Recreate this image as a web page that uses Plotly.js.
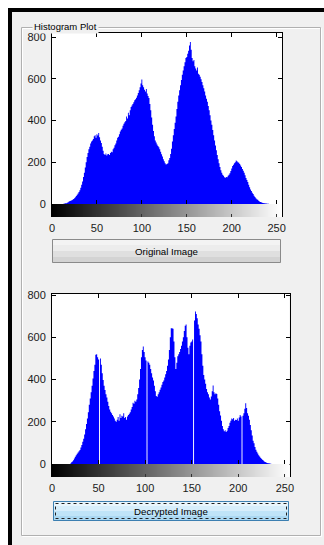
<!DOCTYPE html>
<html>
<head>
<meta charset="utf-8">
<script src="https://cdn.plot.ly/plotly-3.0.1.min.js"></script>
<style>html,body{margin:0;padding:0;background:#fff;}#chart{width:324px;height:545px;}</style>
</head>
<body>
<div id="chart"></div>
<script>
// Histogram counts per gray level (0..255)
const originalCounts = [
0,0,0,0,0,0,0,0,0,0,0,0,0,
1,2,3,4,6,8,12,
14,16,18,20,24,28,32,38,44,50,
58,66,78,92,108,130,150,175,200,225,
245,262,275,290,300,305,312,325,330,318,
335,328,340,320,305,292,275,255,240,235,
242,232,238,240,235,245,250,248,262,270,
282,290,305,318,322,335,348,356,362,375,
385,392,398,420,410,438,425,450,465,472,
480,488,498,502,510,520,532,545,560,578,
597,570,560,548,540,552,530,518,508,480,
450,415,380,350,325,305,295,285,278,272,
262,250,238,228,215,205,195,190,192,195,
210,220,240,265,300,330,360,390,420,455,
490,520,545,570,595,620,640,660,680,700,
705,720,735,760,777,740,700,685,690,660,
650,640,655,625,620,610,598,585,570,555,
540,520,505,490,470,450,425,400,380,355,
330,305,280,258,235,215,195,178,162,150,
140,135,128,126,130,128,135,140,148,158,
170,182,188,195,200,208,205,200,198,192,
185,178,168,160,150,138,125,115,105,92,
80,70,62,54,48,40,34,28,23,20,
15,12,10,8,6,5,4,3,2,2,
1,1,0,0,0,0,0,0,0,0,
0,0,0,0,0,0
];
const decryptedCounts = [
0,0,0,0,0,0,0,0,0,0,0,0,0,0,0,0,0,0,0,0,
2,8,12,18,26,34,42,48,55,60,
66,78,90,105,120,140,165,190,215,245,
280,310,340,370,405,440,470,517,520,505,
495,0,500,470,430,398,370,350,330,315,
295,275,258,248,240,232,225,215,205,200,
210,222,205,235,218,228,225,240,218,222,
210,225,232,238,245,258,270,290,285,300,
295,305,330,360,400,450,505,540,556,530,
505,490,0,485,480,470,450,430,410,395,
370,345,322,318,330,340,352,362,375,388,
395,410,425,440,465,495,540,600,643,643,
640,580,505,450,480,510,520,530,545,560,
580,600,630,655,660,600,550,520,560,575,
580,590,0,680,722,710,690,660,640,610,
580,520,465,422,400,380,355,340,330,315,
305,320,345,372,340,330,335,332,310,280,
250,230,205,180,165,155,160,152,158,170,
180,195,205,215,212,218,205,210,208,215,
205,220,232,225,0,228,240,262,288,265,
240,228,210,185,160,135,110,98,80,68,
58,50,42,36,30,25,20,16,12,9,
7,5,4,3,2,1,0,0,0,0,
0,0,0,0,0,0,0,0,0,0,
0,0,0,0,0,0
];
const grayLevels = [0, 255];
const xTicks = [0, 50, 100, 150, 200, 250];
const yTicks = [0, 200, 400, 600, 800];
const panelTitle = 'Histogram Plot';
const button1Label = 'Original Image';
const button2Label = 'Decrypted Image';

const W = 324, H = 545;
const px = x => x / W;
const py = y => 1 - y / H;

const FONT = 'Liberation Sans, Arial, sans-serif';
const tickFont = {family: FONT, size: 11, color: '#1a1a1a'};

function histTrace(counts, xa, ya) {
  return {type: 'scatter', mode: 'lines', y: counts, x0: 0, dx: 1, xaxis: xa, yaxis: ya,
    line: {shape: 'hvh', width: 0, color: '#0000ff'}, fill: 'tozeroy', fillcolor: '#0000ff', hoverinfo: 'skip'};
}
function grayBar(xa, ya) {
  return {type: 'heatmap', z: [grayLevels, grayLevels], x: grayLevels, y: [0, 1], xaxis: xa, yaxis: ya,
    zsmooth: 'best', zmin: 0, zmax: 255, colorscale: [[0, '#000000'], [1, '#ffffff']], showscale: false, hoverinfo: 'skip'};
}

const traces = [
  histTrace(originalCounts, 'x', 'y'),
  grayBar('x2', 'y2'),
  histTrace(decryptedCounts, 'x3', 'y3'),
  grayBar('x4', 'y4')
];

function histX(dom, rng, anchor) {
  return {domain: dom, range: rng, anchor: anchor, tickvals: xTicks, ticks: 'inside', ticklen: 4,
    tickcolor: '#000', showticklabels: false, showline: true, linecolor: '#000', linewidth: 1,
    mirror: 'ticks', showgrid: false, zeroline: false, fixedrange: true};
}
function histY(dom, rng, anchor) {
  return {domain: dom, range: rng, anchor: anchor, tickvals: yTicks, ticks: 'inside', ticklen: 4,
    tickcolor: '#000', tickfont: tickFont, showline: true, linecolor: '#000', linewidth: 1,
    mirror: 'ticks', showgrid: false, zeroline: false, fixedrange: true, ticklabelstandoff: 3};
}
function barX(dom, rng, anchor) {
  return {domain: dom, range: rng, anchor: anchor, tickvals: xTicks, ticks: 'inside', ticklen: 3,
    tickcolor: '#333', tickfont: tickFont, showline: false, showgrid: false, zeroline: false,
    fixedrange: true, ticklabelstandoff: 3};
}
function barY(dom, anchor) {
  return {domain: dom, range: [0, 1], anchor: anchor, showticklabels: false, ticks: '',
    showline: true, linecolor: '#000', linewidth: 1, mirror: true, showgrid: false, zeroline: false, fixedrange: true};
}

function rect(x0, y0, x1, y1, fill, lineColor, lw, dash) {
  return {type: 'rect', xref: 'paper', yref: 'paper', x0: px(x0), x1: px(x1), y0: py(y1), y1: py(y0),
    fillcolor: fill || 'rgba(0,0,0,0)', line: {color: lineColor || 'rgba(0,0,0,0)', width: lw || 0, dash: dash || 'solid'}};
}

const shapes = [
  rect(0, 0, 324, 8, '#ffffff'),
  rect(0, 0, 8, 545, '#ffffff'),
  rect(8, 8, 324, 12, '#000000'),
  rect(8, 8, 12, 545, '#000000'),
  rect(22.5, 28.5, 321.5, 536.5, null, '#ffffff', 1),
  rect(21.5, 27.5, 320.5, 535.5, null, '#b0b0b0', 1),
  // button 1
  rect(52, 239, 281, 245, '#f3f3f3'),
  rect(52, 245, 281, 251, '#ececec'),
  rect(52, 251, 281, 257, '#dfdfdf'),
  rect(52, 257, 281, 263, '#d3d3d3'),
  rect(52.5, 239.5, 280.5, 262.5, null, '#8a8a8a', 1),
  // button 2
  rect(53, 501, 289, 506, '#e8f5fc'),
  rect(53, 506, 289, 511, '#d7eefb'),
  rect(53, 511, 289, 516, '#bfe4f8'),
  rect(53, 516, 289, 521, '#aad8f2'),
  rect(53.5, 501.5, 288.5, 520.5, null, '#3c7fb1', 1),
  rect(55.5, 503.5, 286.5, 518.5, null, '#202020', 1, 'dot')
];

const annotations = [
  {text: panelTitle, xref: 'paper', yref: 'paper', x: px(32), y: py(26), xanchor: 'left', yanchor: 'middle',
   showarrow: false, bgcolor: '#f0f0f0', borderpad: 1, font: {family: FONT, size: 9.5, color: '#000'}},
  {text: button1Label, xref: 'paper', yref: 'paper', x: px(166.5), y: py(251.5), xanchor: 'center', yanchor: 'middle',
   showarrow: false, font: {family: FONT, size: 9.7, color: '#000'}},
  {text: button2Label, xref: 'paper', yref: 'paper', x: px(171), y: py(511.5), xanchor: 'center', yanchor: 'middle',
   showarrow: false, font: {family: FONT, size: 9.7, color: '#000'}}
];

const layout = {
  width: W, height: H, margin: {l: 0, r: 0, t: 0, b: 0, pad: 0},
  paper_bgcolor: '#f0f0f0', plot_bgcolor: '#ffffff', showlegend: false,
  xaxis: histX([px(52), px(282)], [0, 256], 'y'),
  yaxis: histY([py(204), py(33)], [0, 820], 'x'),
  xaxis2: barX([px(52), px(282)], [0, 256], 'y2'),
  yaxis2: barY([py(217), py(204)], 'x2'),
  xaxis3: histX([px(52), px(289.5)], [0, 255], 'y3'),
  yaxis3: histY([py(464), py(294)], [0, 805], 'x3'),
  xaxis4: barX([px(52), px(289.5)], [0, 255], 'y4'),
  yaxis4: barY([py(477), py(464)], 'x4'),
  shapes: shapes,
  annotations: annotations
};

Plotly.newPlot('chart', traces, layout, {staticPlot: true, displayModeBar: false});
</script>
</body>
</html>
